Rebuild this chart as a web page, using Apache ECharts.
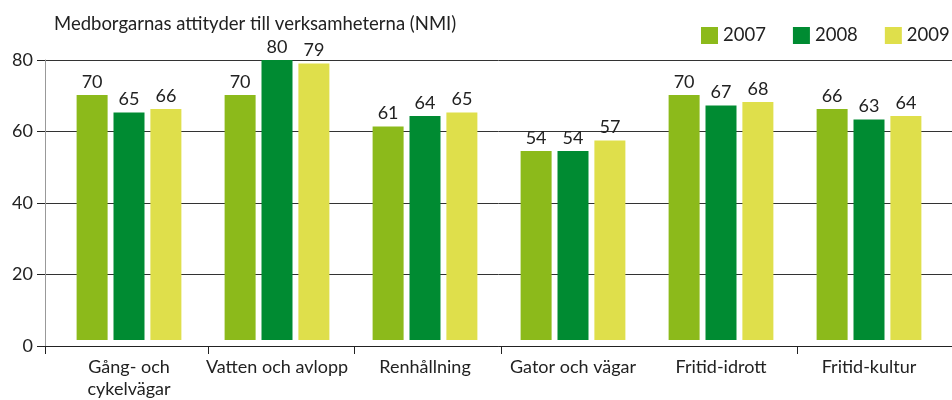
<!DOCTYPE html>
<html>
<head>
<meta charset="utf-8">
<script src="https://cdn.jsdelivr.net/npm/echarts@6/dist/echarts.min.js"></script>
<style>
  html, body { margin: 0; padding: 0; background: #fff; }
  #chart { width: 952px; height: 400px; }
</style>
</head>
<body>
<div id="chart"></div>
<script>
// kategorier och värden (NMI)
const categories = ['Gång- och\ncykelvägar', 'Vatten och avlopp', 'Renhållning', 'Gator och vägar', 'Fritid-idrott', 'Fritid-kultur'];
const years = ['2007', '2008', '2009'];
const values2007 = [70, 70, 61, 54, 70, 66];
const values2008 = [65, 80, 64, 54, 67, 63];
const values2009 = [66, 79, 65, 57, 68, 64];
const yTicks = [0, 20, 40, 60, 80];

const colors = ['#8cba1b', '#008b32', '#dfdf4b'];
const font = 'Lato';

const chart = echarts.init(document.getElementById('chart'));

function barSeries(name, data, color) {
    return {
        name: name,
        type: 'bar',
        xAxisIndex: 1,
        yAxisIndex: 1,
        data: data,
        barWidth: 31,
        barGap: '19%',
        itemStyle: { color: color },
        label: {
            show: true,
            position: 'top',
            distance: 4,
            color: '#222',
            fontFamily: font,
            fontSize: 18
        }
    };
}

const option = {
    animation: false,
    textStyle: { fontFamily: font },
    title: {
        text: 'Medborgarnas attityder till verksamheterna (NMI)',
        left: 49,
        top: 10,
        textStyle: { fontFamily: font, fontSize: 18.5, fontWeight: 'normal', color: '#222' }
    },
    legend: {
        data: years,
        left: 701,
        top: 26,
        width: 300,
        padding: 0,
        itemWidth: 17,
        itemHeight: 17,
        itemGap: 27,
        icon: 'rect',
        textStyle: { fontFamily: font, fontSize: 18.5, color: '#222' }
    },
    grid: [
        { left: 45, right: 0, top: 60, bottom: 54 },
        { left: 55, right: 9, top: 60, bottom: 54 }
    ],
    xAxis: [
        {
            // bara axellinje och skiljestreck
            type: 'value',
            gridIndex: 0,
            min: 0,
            max: 907,
            axisLine: { show: true, lineStyle: { color: '#222', width: 1 } },
            axisTick: { show: true, length: 8, lineStyle: { color: '#222' }, customValues: [0, 163, 309, 456, 752] },
            axisLabel: { show: false },
            splitLine: { show: false }
        },
        {
            type: 'category',
            gridIndex: 1,
            data: categories,
            axisLine: { show: false },
            axisTick: { show: false },
            axisLabel: {
                interval: 0,
                margin: 16,
                color: '#222',
                fontFamily: font,
                fontSize: 18,
                lineHeight: 22
            }
        }
    ],
    yAxis: [
        {
            type: 'value',
            gridIndex: 0,
            min: yTicks[0],
            max: yTicks[yTicks.length - 1],
            interval: 20,
            axisLine: { show: true, lineStyle: { color: '#999', width: 1 } },
            axisTick: { show: true, length: 8, lineStyle: { color: '#222' } },
            axisLabel: { color: '#222', fontFamily: font, fontSize: 18, margin: 12 },
            splitLine: { show: true, lineStyle: { color: '#333', width: 1 } }
        },
        {
            type: 'value',
            gridIndex: 1,
            min: yTicks[0],
            max: yTicks[yTicks.length - 1],
            show: false
        }
    ],
    series: [
        barSeries(years[0], values2007, colors[0]),
        barSeries(years[1], values2008, colors[1]),
        barSeries(years[2], values2009, colors[2])
    ]
};

chart.setOption(option);
</script>
</body>
</html>
